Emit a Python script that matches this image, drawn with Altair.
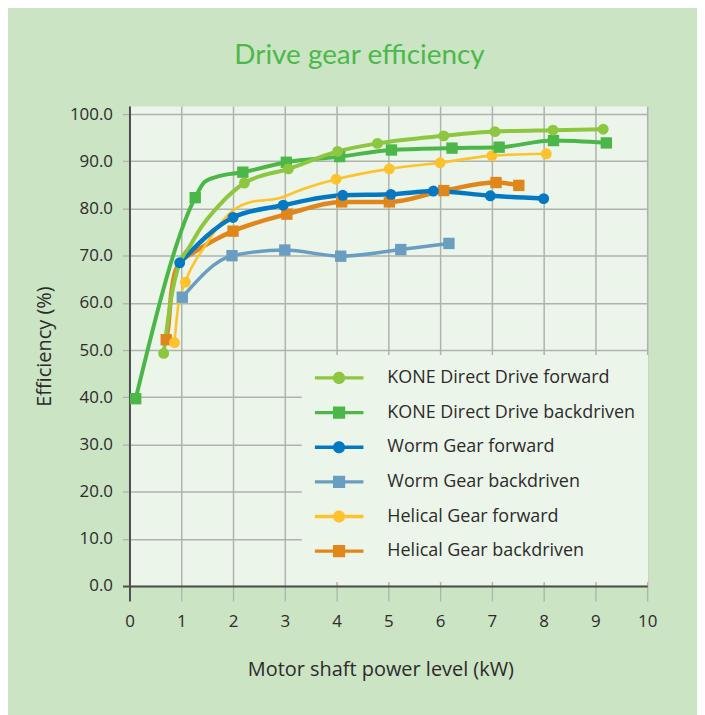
import altair as alt
import pandas as pd

# ---------------- data ----------------
series_names = [
    "KONE Direct Drive forward",
    "KONE Direct Drive backdriven",
    "Worm Gear forward",
    "Worm Gear backdriven",
    "Helical Gear forward",
    "Helical Gear backdriven",
]
series_colors = ["#8DC63F", "#4BB748", "#0079C2", "#6A9EC1", "#FEC22C", "#E1861A"]
marker_types = ["circle", "square", "circle", "square", "circle", "square"]
line_widths = [4.0, 4.0, 4.5, 3.5, 2.6, 4.5]

# marker points (x = motor shaft power kW, y = efficiency %)
kone_fwd_x = [0.66, 2.22, 3.07, 4.02, 4.79, 6.07, 7.06, 8.18, 9.15]
kone_fwd_y = [49.3, 85.4, 88.4, 92.1, 93.8, 95.4, 96.3, 96.6, 96.8]
kone_back_x = [0.12, 1.27, 2.19, 3.03, 4.06, 5.06, 6.23, 7.14, 8.19, 9.21]
kone_back_y = [39.7, 82.3, 87.7, 89.8, 91.0, 92.4, 92.8, 93.0, 94.4, 93.9]
worm_fwd_x = [0.97, 2.00, 2.97, 4.12, 5.05, 5.87, 6.97, 8.00]
worm_fwd_y = [68.5, 78.1, 80.7, 82.8, 83.0, 83.7, 82.7, 82.1]
worm_back_x = [1.02, 1.98, 3.00, 4.08, 5.24, 6.17]
worm_back_y = [61.2, 70.0, 71.2, 69.9, 71.3, 72.6]
helical_fwd_x = [0.87, 1.08, 3.99, 5.02, 6.00, 7.00, 8.05]
helical_fwd_y = [51.6, 64.4, 86.2, 88.4, 89.7, 91.2, 91.6]
helical_back_x = [0.71, 2.00, 3.04, 4.10, 5.02, 6.07, 7.08, 7.52]
helical_back_y = [52.2, 75.2, 78.8, 81.4, 81.4, 83.8, 85.5, 84.9]

# extra points (no marker there)
kone_fwd_curve_x = [0.81, 0.94, 1.16, 1.39, 1.70]
kone_fwd_curve_y = [61.3, 67.6, 71.9, 76.1, 80.3]
kone_back_curve_x = [1.45, 1.71]
kone_back_curve_y = [85.6, 86.8]
worm_fwd_curve_x = []
worm_fwd_curve_y = []
worm_back_curve_x = []
worm_back_curve_y = []
helical_fwd_curve_x = [0.94, 1.45, 2.00, 2.35, 2.86, 3.37]
helical_fwd_curve_y = [59.2, 71.9, 79.6, 81.4, 82.1, 84.2]
helical_back_curve_x = [0.75, 0.80, 0.89, 1.00, 1.26, 1.64]
helical_back_curve_y = [55.0, 61.3, 66.9, 68.8, 70.8, 73.3]

x_ticks = [0, 1, 2, 3, 4, 5, 6, 7, 8, 9, 10]
y_ticks = [0, 10, 20, 30, 40, 50, 60, 70, 80, 90, 100]

# ---------------- table ----------------
marker_sets = [
    (kone_fwd_x, kone_fwd_y, kone_fwd_curve_x, kone_fwd_curve_y),
    (kone_back_x, kone_back_y, kone_back_curve_x, kone_back_curve_y),
    (worm_fwd_x, worm_fwd_y, worm_fwd_curve_x, worm_fwd_curve_y),
    (worm_back_x, worm_back_y, worm_back_curve_x, worm_back_curve_y),
    (helical_fwd_x, helical_fwd_y, helical_fwd_curve_x, helical_fwd_curve_y),
    (helical_back_x, helical_back_y, helical_back_curve_x, helical_back_curve_y),
]
rows = []
for i, (mx, my, cx, cy) in enumerate(marker_sets):
    for a, b in zip(mx, my):
        rows.append({"series": series_names[i], "x": a, "y": b, "marker": True})
    for a, b in zip(cx, cy):
        rows.append({"series": series_names[i], "x": a, "y": b, "marker": False})
df = pd.DataFrame(rows)

# legend symbols: a line with the marker in its middle
T = 0.068
R = 0.25
line_part = f"M-1,-{T}L1,-{T}L1,{T}L-1,{T}Z"
circle_part = f"M0,-{R}A{R},{R} 0 1,1 0,{R}A{R},{R} 0 1,1 0,-{R}Z"
square_part = f"M-{R},-{R}L{R},-{R}L{R},{R}L-{R},{R}Z"
legend_paths = [line_part + (circle_part if m == "circle" else square_part) for m in marker_types]

FONT = "Open Sans"
TXT = "#2B2B2B"
GRID = "#AEB3AD"
DARK = "#4D4D4D"

tick_color = {"condition": {"test": "datum.value === 0", "value": DARK}, "value": GRID}
tick_width = {"condition": {"test": "datum.value === 0", "value": 2}, "value": 1.3}

x_axis = alt.Axis(
    values=x_ticks, format="d", title="Motor shaft power level (kW)",
    titleX=252, titlePadding=30, titleFont=FONT, titleFontSize=20,
    titleFontWeight="normal", titleColor=TXT,
    tickSize=15, tickColor=tick_color, tickWidth=tick_width,
    domainColor=DARK, domainWidth=2,
    gridColor=GRID, gridWidth=1.5,
    labelFont=FONT, labelFontSize=17, labelColor=TXT, labelPadding=13, labelFlush=False,
)
y_axis = alt.Axis(
    values=y_ticks, format=".1f", title="Efficiency (%)",
    titlePadding=15, titleFont=FONT, titleFontSize=20,
    titleFontWeight="normal", titleColor=TXT,
    tickSize=7, tickColor=tick_color, tickWidth=tick_width,
    domainColor=DARK, domainWidth=2,
    gridColor=GRID, gridWidth=1.5,
    labelFont=FONT, labelFontSize=17, labelColor=TXT, labelPadding=10, labelFlush=False,
)

x_enc = alt.X("x:Q", scale=alt.Scale(domain=[0, 10], nice=False, zero=False), axis=x_axis)
y_enc = alt.Y("y:Q", scale=alt.Scale(domain=[0, 101.7], nice=False, zero=False), axis=y_axis)

legend = alt.Legend(
    title="\u00a0", titleOrient="bottom", titleFontSize=2, titlePadding=6,
    orient="none", legendX=173, legendY=250,
    fillColor="#ECF5EA", padding=13,
    symbolSize=2401, symbolStrokeWidth=0, symbolOpacity=1, clipHeight=20,
    labelFont=FONT, labelFontSize=18, labelColor=TXT, labelOffset=24, labelLimit=400,
    rowPadding=14.8,
)

base = alt.Chart(df)

line_layers = []
point_layers = []
for i, name in enumerate(series_names):
    sub = base.transform_filter(alt.datum.series == name)
    line_layers.append(
        sub.mark_line(
            interpolate="monotone", strokeCap="round", strokeJoin="round",
            color=series_colors[i], strokeWidth=line_widths[i],
        ).encode(x=x_enc, y=y_enc, order=alt.Order("x:Q"))
    )
    point_layers.append(
        sub.transform_filter("datum.marker").mark_point(
            filled=True, opacity=1, strokeWidth=0, color=series_colors[i],
            shape=marker_types[i], size=120 if marker_types[i] == "circle" else 130,
        ).encode(x=x_enc, y=y_enc)
    )

legend_layer = base.transform_filter("false").mark_point(filled=True).encode(
    x=x_enc,
    y=y_enc,
    color=alt.Color("series:N", scale=alt.Scale(domain=series_names, range=series_colors), legend=legend),
    shape=alt.Shape("series:N", scale=alt.Scale(domain=series_names, range=legend_paths), legend=legend),
)

draw_order = [5, 4, 3, 2, 1, 0]
layers = [line_layers[i] for i in draw_order] + [point_layers[i] for i in draw_order] + [legend_layer]

chart = alt.layer(*layers).properties(
    width=520,
    height=482,
    autosize=alt.AutoSizeParams(type="none"),
    padding={"left": 122, "top": 97, "right": 50, "bottom": 128},
    background="#CBE4C4",
    title=alt.TitleParams(
        "Drive gear efficiency", font="Lato", fontSize=28, fontWeight="normal",
        color="#4CB84A", anchor="middle", dx=-29, offset=13, baseline="alphabetic",
    ),
).configure_view(fill="#ECF5EA", stroke="transparent")

chart.save("out.html", embed_options={"renderer": "svg", "actions": False})
